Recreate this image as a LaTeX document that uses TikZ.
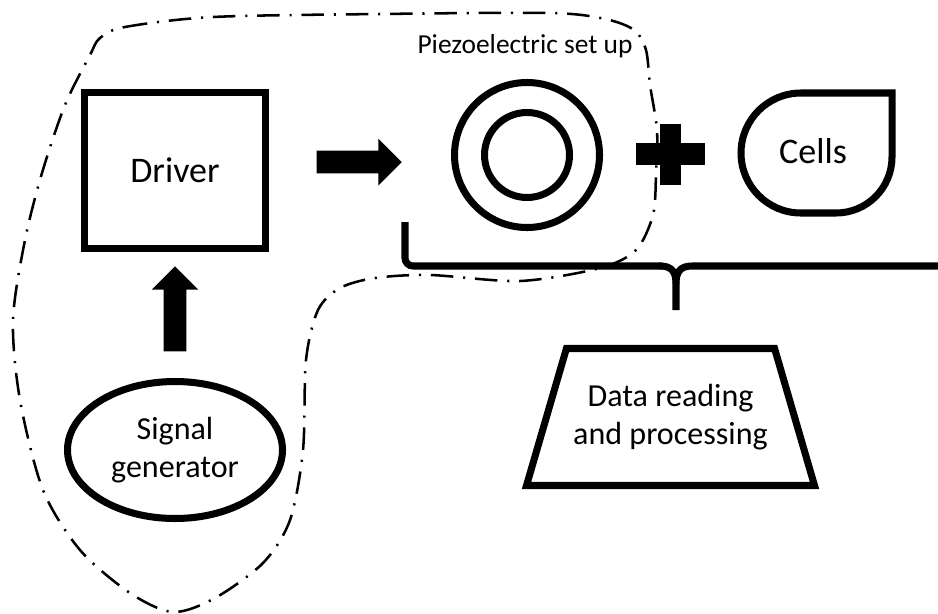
\documentclass[tikz,border=0pt]{standalone}
\usepackage{fontspec}
\setmainfont{Carlito}
\usetikzlibrary{shapes.geometric, shapes.arrows}

\begin{document}
\begin{tikzpicture}[
	every node/.style={font=\fontsize{22.8}{27}\selectfont},
	box/.style={draw, line width=5pt},
	big font/.style={font=\fontsize{25.6}{30}\selectfont},
	block arrow/.style={single arrow, fill=black, inner xsep=0pt, inner ysep=0.28cm, minimum height=2.125cm, single arrow head extend=0.3cm, single arrow tip angle=90},
	group line/.style={line width=1.8pt, dash pattern=on 16pt off 7pt on 1.5pt off 7pt}
]
	\useasboundingbox (0,0) rectangle (23.45,-15.325);
	% left part: generator and driver
	\node[box, rectangle, minimum width=4.525cm, minimum height=3.9cm, big font] (Driver) at (4.375,-4.2625) {Driver};
	\node[box, ellipse, minimum width=5.375cm, minimum height=3.425cm, align=center] (Signal generator) at (4.375,-11.25) {Signal\\generator};
	\node[block arrow, rotate=90] (Arrow up) at (4.375,-7.8625) {};
	\node[block arrow] (Arrow right) at (8.8375,-4.05) {};
	% piezo set up and cells
	\node[box, circle, minimum size=3.625cm] (Piezo) at (13.175,-3.875) {};
	\node[box, circle, minimum size=2.125cm] (Piezo inner) at (Piezo) {};
	\node[font=\fontsize{19.5}{23}\selectfont, anchor=base] (Piezo label) at (13.125,-1.333) {Piezoelectric set up};
	\fill (15.9,-3.575) rectangle (17.625,-4.125);
	\fill (16.5,-3.1) rectangle (17.025,-4.625);
	\node[big font, anchor=base] (Cells) at (20.325,-4.075) {Cells};
	\draw[line width=5pt] (22.3,-2.325) -- (20.025,-2.325) arc[start angle=90, end angle=270, radius=1.5cm] -- (20.9,-5.325) arc[start angle=270, end angle=360, radius=1.4cm] -- cycle;
	% brace over piezo and cells
	\draw[line width=5pt, rounded corners=0.2cm] (10.125,-5.55) -- (10.125,-6.65) -- (16.55,-6.65);
	\draw[line width=5pt] (16.5,-6.65) .. controls (16.8,-6.65) and (16.9,-6.8) .. (16.9,-7.1) -- (16.9,-7.75);
	\draw[line width=5pt] (23.45,-6.65) -- (17.3,-6.65) .. controls (17,-6.65) and (16.9,-6.8) .. (16.9,-7.1);
	\node[box, trapezium, trapezium left angle=62, trapezium right angle=62, trapezium stretches body=true, minimum width=7.2cm, minimum height=3.425cm, align=center] (Data) at (16.7625,-10.425) {Data reading\\and processing};
	% outline round generator, driver and piezo
	\draw[group line] plot[smooth cycle, tension=0.5] coordinates {
		(2.5,-0.95) (3.125,-0.675) (5.325,-0.425) (9.5,-0.35) (13.75,-0.325) (15.125,-0.475)
		(15.85,-0.75) (16.15,-1.25) (16.25,-2.125) (16.425,-3.25) (16.4,-4.375) (16.325,-5.375)
		(15.9,-6.25) (15,-6.7) (13,-7.025) (10.75,-6.875) (9.375,-6.95) (8.5,-7.2) (7.95,-7.75)
		(7.65,-9) (7.575,-11.25) (7.25,-13) (6.575,-14.075) (5.375,-14.95) (4.325,-15.3)
		(3.25,-14.825) (2,-13.75) (1.075,-12.25) (0.5,-10) (0.325,-8) (0.625,-6) (1.05,-4.325)
		(1.625,-2.625) (2.25,-1.375)};
\end{tikzpicture}
\end{document}
